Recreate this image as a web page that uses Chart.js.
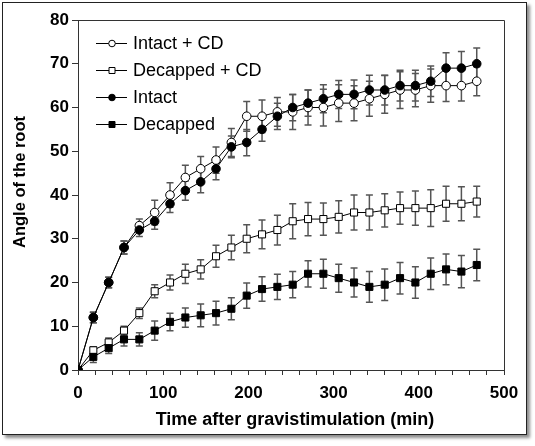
<!DOCTYPE html>
<html>
<head>
<meta charset="utf-8">
<script src="https://cdn.jsdelivr.net/npm/chart.js@4/dist/chart.umd.min.js"></script>
<style>
  html, body { margin: 0; padding: 0; background: #fff; }
  #frame { position: absolute; left: 2px; top: 2px; width: 523px; height: 431px;
           border: 1px solid #222; box-shadow: 3px 3px 3px rgba(0,0,0,0.45); background: #fff; }
  #wrap { position: absolute; left: 0; top: 0; width: 535px; height: 446px; }
</style>
</head>
<body>
<div id="frame"></div>
<div id="wrap"><canvas id="c" width="535" height="446"></canvas></div>
<script>
const times = [0,18,36,54,72,90,108,126,144,162,180,198,216,234,252,270,288,306,324,342,360,378,396,414,432,450,468];

const intactCD    = [0,12,20,28,33,36,40,44,46,48,52,58,58,59,59,60,60,61,61,62,63,64,64,65,65,65,66];
const intactCDErr = [0,1.2,1.2,1.5,1.5,2.8,2.8,2.8,2.8,3,3.2,3.4,3.7,3.3,4,4,4.2,4.2,4,4,4.3,4.2,3.8,3.8,3.6,3.5,3.3];

const decapCD     = [0,4.5,6.3,9,13,18,20,22,23,26,28,30,31,32,34,34.5,34.5,35,36,36,36.5,37,37,37,38,38,38.5];
const decapCDErr  = [0,0.8,1,1,1.2,1.5,1.7,2.2,2.2,2.5,2.8,3.2,3.3,3.4,4,3.8,3.7,3.7,4,4,3.8,3.7,3.9,4.2,4,3.9,3.5];

const intact      = [0,12,20,28,32,34,38,41,43,46,51,52,55,58,60,61,62,63,63,64,64,65,65,66,69,69,70];
const intactErr   = [0,1.2,1.2,1.5,1.5,1.8,2,2.2,2.5,2.5,2.5,3,2.7,3,3,3,3.2,3.2,3.3,3.4,3.4,3.5,3.5,3.5,3.5,3.8,3.6];

const decap       = [0,3,5,7,7,9,11,12,12.5,13,14,17,18.5,19,19.5,22,22,21,20,19,19.5,21,20,22,23,22.5,24];
const decapErr    = [0,1.3,1.2,1.5,1.5,2.2,2,2.2,2.6,2.7,2.5,2.9,2.8,2.9,3,3,3.3,3.2,3.3,3.5,3.6,3.6,3.6,3.6,3.5,3.7,3.6];

const seriesNames = ["Intact + CD", "Decapped + CD", "Intact", "Decapped"];
const xTickLabels = [0,100,200,300,400,500];
const yTickLabels = [0,10,20,30,40,50,60,70,80];
const xTitle = "Time after gravistimulation (min)";
const yTitle = "Angle of the root";

const FONT = '"Liberation Sans", Arial, Helvetica, sans-serif';

function pts(vals) { return times.map((t, i) => ({ x: t, y: vals[i] })); }

const styles = [
  { style: 'circle', fill: '#fff', r: 4.3, order: 3, err: intactCDErr },
  { style: 'rect',   fill: '#fff', r: 5,   order: 2, err: decapCDErr },
  { style: 'circle', fill: '#000', r: 4.3, order: 0, err: intactErr },
  { style: 'rect',   fill: '#000', r: 5,   order: 1, err: decapErr }
];
const values = [intactCD, decapCD, intact, decap];

const datasets = values.map((v, i) => ({
  label: seriesNames[i],
  data: pts(v),
  borderColor: '#000',
  borderWidth: 1,
  pointStyle: styles[i].style,
  pointRadius: styles[i].r,
  pointBackgroundColor: styles[i].fill,
  pointBorderColor: '#000',
  pointBorderWidth: 1,
  order: styles[i].order,
  tension: 0,
  errors: styles[i].err
}));

const errorBars = {
  id: 'errorBars',
  beforeDatasetsDraw(chart) {
    const ctx = chart.ctx, xs = chart.scales.x, ys = chart.scales.y;
    ctx.save();
    ctx.strokeStyle = '#555';
    ctx.lineWidth = 1.5;
    chart.data.datasets.forEach(ds => {
      ds.data.forEach((p, i) => {
        const e = ds.errors[i];
        if (!e) return;
        const x = xs.getPixelForValue(p.x);
        const y1 = ys.getPixelForValue(p.y + e);
        const y2 = ys.getPixelForValue(p.y - e);
        ctx.beginPath();
        ctx.moveTo(x, y1); ctx.lineTo(x, y2);
        ctx.moveTo(x - 3.5, y1); ctx.lineTo(x + 3.5, y1);
        ctx.moveTo(x - 3.5, y2); ctx.lineTo(x + 3.5, y2);
        ctx.stroke();
      });
    });
    ctx.restore();
  }
};

const decor = {
  id: 'decor',
  afterDraw(chart) {
    const ctx = chart.ctx, a = chart.chartArea;
    ctx.save();
    ctx.strokeStyle = '#333';
    ctx.lineWidth = 1;
    ctx.beginPath();
    ctx.moveTo(a.left, a.top + 0.5); ctx.lineTo(a.right + 0.5, a.top + 0.5);
    ctx.lineTo(a.right + 0.5, a.bottom);
    ctx.stroke();

    const lx0 = a.left + 18, lx1 = a.left + 49, mx = a.left + 34, tx = a.left + 55;
    const rows = [a.top + 23, a.top + 50, a.top + 77, a.top + 104];
    ctx.font = '18px ' + FONT;
    ctx.textBaseline = 'middle';
    ctx.textAlign = 'left';
    seriesNames.forEach((name, i) => {
      const y = rows[i];
      ctx.strokeStyle = '#000';
      ctx.lineWidth = 1;
      ctx.beginPath();
      ctx.moveTo(lx0, y + 0.5); ctx.lineTo(lx1, y + 0.5);
      ctx.stroke();
      ctx.fillStyle = styles[i].fill;
      ctx.beginPath();
      if (styles[i].style === 'circle') {
        ctx.arc(mx, y + 0.5, 3.3, 0, Math.PI * 2);
      } else {
        ctx.rect(mx - 3, y + 0.5 - 3, 6, 6);
      }
      ctx.fill();
      ctx.stroke();
      ctx.fillStyle = '#000';
      ctx.fillText(name, tx, y + 1);
    });

    ctx.fillStyle = '#000';
    ctx.font = 'bold 18px ' + FONT;
    ctx.textAlign = 'center';
    ctx.textBaseline = 'alphabetic';
    ctx.fillText(xTitle, (a.left + a.right) / 2 + 4, a.bottom + 55);

    ctx.save();
    ctx.translate(25, (a.top + a.bottom) / 2 - 13);
    ctx.rotate(-Math.PI / 2);
    ctx.font = 'bold 16.5px ' + FONT;
    ctx.textAlign = 'center';
    ctx.textBaseline = 'alphabetic';
    ctx.fillText(yTitle, 0, 0);
    ctx.restore();
    ctx.restore();
  }
};

new Chart(document.getElementById('c'), {
  type: 'line',
  data: { datasets },
  options: {
    responsive: false,
    animation: false,
    events: [],
    layout: { padding: { left: 0, right: 31, top: 20, bottom: 0 } },
    plugins: { legend: { display: false }, tooltip: { enabled: false }, title: { display: false } },
    scales: {
      x: {
        type: 'linear',
        min: 0, max: 500,
        afterFit(s) { s.height = 76; },
        border: { display: true, color: '#333', width: 1 },
        grid: { display: true, drawOnChartArea: false, drawTicks: true, tickLength: 5, color: '#333', tickColor: '#333' },
        ticks: {
          stepSize: 20,
          autoSkip: false,
          maxRotation: 0,
          padding: 8,
          color: '#000',
          font: { family: FONT, size: 17, weight: 'bold' },
          callback: v => xTickLabels.includes(v) ? String(v) : ''
        }
      },
      y: {
        type: 'linear',
        min: 0, max: 80,
        afterFit(s) { s.width = 78; },
        border: { display: true, color: '#333', width: 1 },
        grid: { display: true, drawOnChartArea: false, drawTicks: true, tickLength: 6, color: '#333', tickColor: '#333' },
        ticks: {
          stepSize: 10,
          padding: 3,
          color: '#000',
          font: { family: FONT, size: 17, weight: 'bold' },
          callback: v => yTickLabels.includes(v) ? String(v) : ''
        }
      }
    }
  },
  plugins: [errorBars, decor]
});
</script>
</body>
</html>
